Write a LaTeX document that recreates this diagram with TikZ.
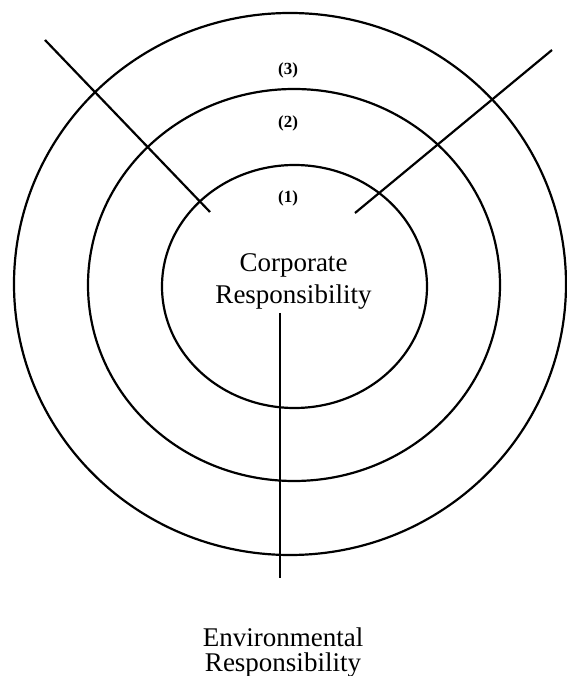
\documentclass[tikz,border=0pt]{standalone}
\usepackage{fontspec}
\setmainfont{Liberation Serif}
\usetikzlibrary{shapes.geometric}

\begin{document}
\begin{tikzpicture}[
    x=0.5pt, y=0.5pt,
    ring/.style={draw, ellipse, inner sep=0pt, line width=1.1pt},
    spoke/.style={line width=1.1pt},
    level/.style={font=\fontsize{8.5}{10}\selectfont\bfseries, inner sep=0pt},
    caption/.style={align=center, inner sep=0pt, font=\fontsize{13.5}{16}\selectfont}
  ]
    \useasboundingbox (0,0) rectangle (567,676);
    \node[ring, minimum width=276pt, minimum height=271pt] (outer) at (290,392) {};
    \node[ring, minimum width=206pt, minimum height=196pt] (middle) at (294,391) {};
    \node[ring, minimum width=132.5pt, minimum height=121.5pt] (inner) at (294.5,389.5) {};
    \node[level] (lvl3) at (288,606) {(3)};
    \node[level] (lvl2) at (288,553) {(2)};
    \node[level] (lvl1) at (288,478) {(1)};
    \node[caption] (corp) at (293.5,395) {Corporate\\Responsibility};
    \node[caption, font=\fontsize{13.5}{12.5}\selectfont] (env) at (283,23) {Environmental\\Responsibility};
    \coordinate (nwend) at (45,636);
    \coordinate (nwtip) at (210,464);
    \coordinate (neend) at (552,626);
    \coordinate (netip) at (355,463);
    \coordinate (stemtop) at (280,363);
    \coordinate (stemend) at (280,98);
    \draw[spoke] (nwend) -- (nwtip);
    \draw[spoke] (neend) -- (netip);
    \draw[spoke] (stemtop) -- (stemend);
  \end{tikzpicture}
\end{document}
